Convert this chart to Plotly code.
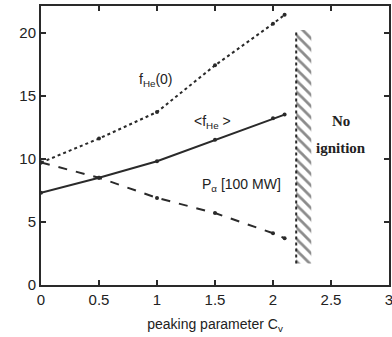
import plotly.graph_objects as go

cv = [0, 0.5, 1, 1.5, 2, 2.1]
f_he0 = [9.7, 11.6, 13.7, 17.4, 20.7, 21.4]
f_he_avg = [7.3, 8.5, 9.8, 11.5, 13.2, 13.5]
p_alpha = [9.7, 8.5, 6.9, 5.7, 4.1, 3.7]

limit_x = [2.2, 2.33]
limit_y = [1.7, 20.2]

x_ticks = [0, 0.5, 1, 1.5, 2, 2.5, 3]
x_tick_text = ["0", "0.5", "1", "1.5", "2", "2.5", "3"]
y_ticks = [0, 5, 10, 15, 20]

col = "#2a2a2a"
fig = go.Figure()

fig.add_trace(go.Scatter(x=cv, y=f_he0, mode="lines+markers",
                         line=dict(color=col, width=2, dash="dot"),
                         marker=dict(size=4, color=col)))
fig.add_trace(go.Scatter(x=cv, y=f_he_avg, mode="lines+markers",
                         line=dict(color=col, width=2),
                         marker=dict(size=4, color=col)))
fig.add_trace(go.Scatter(x=cv, y=p_alpha, mode="lines+markers",
                         line=dict(color=col, width=2, dash="dash"),
                         marker=dict(size=4, color=col)))

# hatched "no ignition" boundary
fig.add_trace(go.Scatter(
    x=[limit_x[0], limit_x[1], limit_x[1], limit_x[0], limit_x[0]],
    y=[limit_y[0], limit_y[0], limit_y[1], limit_y[1], limit_y[0]],
    mode="none", fill="toself", fillcolor="white",
    fillpattern=dict(shape="\\", fgcolor="#1a1a1a", bgcolor="white", size=8, solidity=0.35),
    hoverinfo="skip"))
fig.add_trace(go.Scatter(x=[limit_x[0], limit_x[0]], y=limit_y, mode="lines",
                         line=dict(color=col, width=2, dash="dot"), hoverinfo="skip"))

ann_font = dict(family="Liberation Sans, Arial", size=14, color="#222")
fig.add_annotation(x=0.99, y=16.2, text="f<sub>He</sub>(0)", showarrow=False, font=ann_font)
fig.add_annotation(x=1.48, y=12.9, text="&lt;f<sub>He</sub> &gt;", showarrow=False, font=ann_font)
fig.add_annotation(x=1.73, y=7.9, text="P<sub>α</sub> [100 MW]", showarrow=False, font=ann_font)
serif = dict(family="Liberation Serif, Times New Roman", size=15, color="#222")
fig.add_annotation(x=2.59, y=13.0, text="<b>No</b>", showarrow=False, font=serif)
fig.add_annotation(x=2.59, y=10.85, text="<b>ignition</b>", showarrow=False, font=serif)

axis_common = dict(showgrid=False, zeroline=False, showline=True, linecolor=col, linewidth=2,
                   mirror="ticks", ticks="inside", ticklen=5, tickcolor=col, tickwidth=1.5,
                   automargin=False, ticklabeloverflow="allow",
                   tickfont=dict(family="Liberation Sans, Arial", size=15, color="#222"))
fig.update_xaxes(range=[0, 3.0], tickvals=x_ticks, ticktext=x_tick_text,
                 title=dict(text="peaking parameter C<sub>v</sub>", standoff=12,
                            font=dict(family="Liberation Sans, Arial", size=14, color="#222")),
                 **axis_common)
fig.update_yaxes(range=[0, 22.1], tickvals=y_ticks, **axis_common)

fig.update_layout(width=392, height=337, margin=dict(l=41, r=3, t=6, b=52),
                  plot_bgcolor="white", paper_bgcolor="white", showlegend=False)

fig.write_html("out.html", config={"displayModeBar": False},
               post_script="document.body.style.margin='0';document.body.style.overflow='hidden';")
